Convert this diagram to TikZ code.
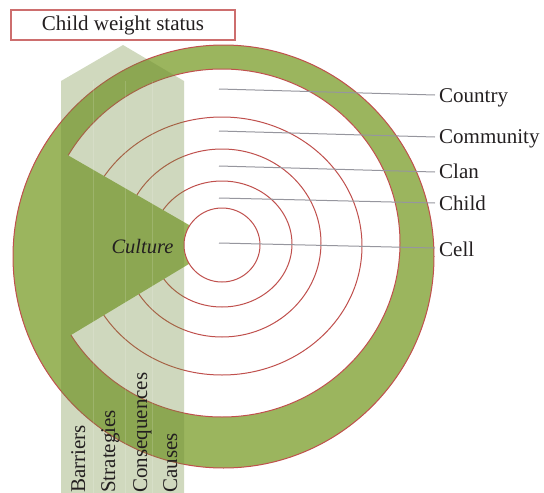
\documentclass[tikz,border=0pt]{standalone}
\usepackage{fontspec}
\setmainfont{Liberation Serif}
\definecolor{ringgreen}{RGB}{155,181,94}
\definecolor{edgered}{RGB}{192,80,77}
\definecolor{colgreen}{RGB}{112,139,58}
\definecolor{hdrred}{RGB}{205,110,110}
\definecolor{linegray}{RGB}{150,150,158}
\definecolor{txt}{RGB}{35,31,32}
\tikzset{
  redline/.style={draw=edgered, line width=1pt},
  lbl/.style={anchor=base west, inner sep=0pt, text=txt, font=\fontsize{21}{25}\selectfont},
  collbl/.style={anchor=base west, inner sep=0pt, rotate=90, text=txt, font=\fontsize{21}{25}\selectfont},
  pointer/.style={draw=linegray, line width=1pt},
}
\begin{document}
\begin{tikzpicture}[x=1pt,y=-1pt]
\useasboundingbox (0,0) rectangle (544,493);
% outer ring
\fill[ringgreen] (223.5,256.5) ellipse [x radius=210.5pt, y radius=211.5pt];
\filldraw[fill=white, redline] (222,243) ellipse [x radius=178pt, y radius=174pt];
% concentric levels
\draw[redline] (222,246) ellipse [x radius=140pt, y radius=129pt];
\draw[redline] (222,243) ellipse [x radius=99pt, y radius=94pt];
\draw[redline] (222,244) ellipse [x radius=70pt, y radius=63pt];
% culture wedge
\begin{scope}
  \clip (223.5,256.5) ellipse [x radius=210.5pt, y radius=211.5pt];
  \fill[ringgreen] (222,244) -- (5,119) -- (8,373) -- cycle;
\end{scope}
\draw[redline] (223.5,256.5) ellipse [x radius=210.5pt, y radius=211.5pt];
% cell
\filldraw[fill=white, redline] (222,245) ellipse [x radius=38pt, y radius=37pt];
% labels and pointers
\node[lbl] (country) at (439,102) {Country};
\node[lbl] (community) at (439,143) {Community};
\node[lbl] (clan) at (439,178) {Clan};
\node[lbl] (child) at (439,210) {Child};
\node[lbl] (cell) at (439,256) {Cell};
\coordinate (pcountry) at (219,89);
\coordinate (pcommunity) at (219,131);
\coordinate (pclan) at (219,166);
\coordinate (pchild) at (219,198);
\coordinate (pcell) at (219,243);
\draw[pointer] (pcountry) -- ([shift={(-4pt,7pt)}]country.base west);
\draw[pointer] (pcommunity) -- ([shift={(-4pt,6pt)}]community.base west);
\draw[pointer] (pclan) -- ([shift={(-4pt,6pt)}]clan.base west);
\draw[pointer] (pchild) -- ([shift={(-4pt,7pt)}]child.base west);
\draw[pointer] (pcell) -- ([shift={(-4pt,8pt)}]cell.base west);
% column
\fill[colgreen, fill opacity=0.33] (61,495) -- (61,81) -- (123,45) -- (184,81) -- (184,495) -- cycle;
\foreach \xx in {93,125,152}
  \draw[white, opacity=0.15, line width=0.8pt] (\xx,81) -- (\xx,495);
\node[collbl] (barriers) at (85,493) {Barriers};
\node[collbl] (strategies) at (115,493) {Strategies};
\node[collbl] (consequences) at (147,493) {Consequences};
\node[collbl] (causes) at (177,493) {Causes};
% culture
\node[anchor=base, inner sep=0pt, text=txt, font=\fontsize{20.5}{24}\selectfont\itshape] (culture) at (142.5,253) {Culture};
% header
\node[draw=hdrred, line width=1.5pt, fill=white, minimum width=224pt, minimum height=30pt, inner sep=0pt, text=txt, font=\fontsize{21}{25}\selectfont] (title) at (123,25) {Child weight status};
\end{tikzpicture}
\end{document}
